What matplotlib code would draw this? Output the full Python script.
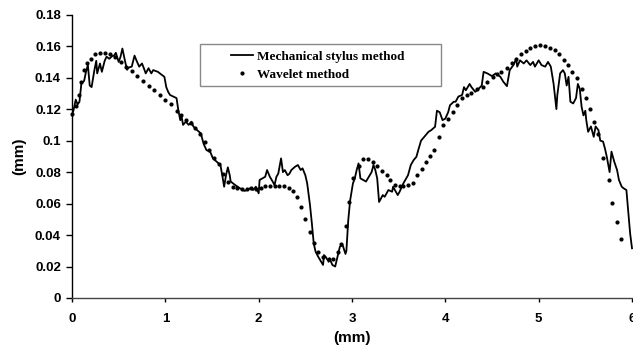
import numpy as np
import matplotlib
matplotlib.use("Agg")
import matplotlib.pyplot as plt
from matplotlib.patches import Rectangle

# mechanical stylus profile (mm)
stylus_x = [0.00, 0.015, 0.04, 0.06, 0.08, 0.10, 0.13, 0.15, 0.17, 0.19, 0.21, 0.24, 0.26, 0.27, 0.30,
            0.32, 0.35, 0.37, 0.40, 0.43, 0.45, 0.47, 0.50, 0.52, 0.54, 0.57, 0.59, 0.61, 0.64, 0.67,
            0.69, 0.72, 0.75, 0.77, 0.79, 0.82, 0.85, 0.87, 0.92, 0.99, 1.01, 1.03, 1.05, 1.12, 1.14,
            1.16, 1.175, 1.19, 1.22, 1.25, 1.28, 1.30, 1.34, 1.38, 1.41, 1.44, 1.48, 1.51, 1.55, 1.59,
            1.61, 1.63, 1.65, 1.67, 1.69, 1.70, 1.75, 1.80, 1.85, 1.91, 1.94, 1.97, 2.00, 2.01, 2.07,
            2.09, 2.12, 2.15, 2.17, 2.19, 2.21, 2.24, 2.26, 2.28, 2.31, 2.33, 2.35, 2.39, 2.42, 2.45,
            2.47, 2.50, 2.52, 2.55, 2.57, 2.59, 2.61, 2.64, 2.66, 2.69, 2.70, 2.72, 2.75, 2.76, 2.79,
            2.82, 2.84, 2.87, 2.90, 2.93, 2.94, 2.96, 2.98, 3.01, 3.03, 3.05, 3.07, 3.09, 3.12, 3.15,
            3.19, 3.21, 3.23, 3.25, 3.27, 3.29, 3.33, 3.35, 3.39, 3.43, 3.44, 3.49, 3.51, 3.55, 3.58,
            3.60, 3.63, 3.66, 3.69, 3.71, 3.74, 3.76, 3.79, 3.82, 3.85, 3.89, 3.91, 3.94, 3.97, 4.00,
            4.03, 4.05, 4.09, 4.11, 4.14, 4.18, 4.20, 4.22, 4.26, 4.28, 4.32, 4.35, 4.39, 4.41, 4.45,
            4.50, 4.54, 4.59, 4.62, 4.66, 4.69, 4.73, 4.76, 4.77, 4.80, 4.84, 4.87, 4.91, 4.94, 4.96,
            5.00, 5.03, 5.07, 5.10, 5.13, 5.16, 5.19, 5.20, 5.23, 5.26, 5.28, 5.30, 5.32, 5.34, 5.37,
            5.40, 5.42, 5.44, 5.46, 5.48, 5.50, 5.51, 5.53, 5.56, 5.59, 5.61, 5.64, 5.66, 5.69, 5.71,
            5.73, 5.76, 5.78, 5.81, 5.84, 5.86, 5.89, 5.91, 5.94, 5.96, 5.98, 6.00]
stylus_y = [0.116, 0.119, 0.126, 0.123, 0.1247, 0.136, 0.138, 0.1437, 0.148, 0.135, 0.134, 0.1448, 0.1507, 0.1427, 0.149,
            0.1437, 0.1507, 0.1533, 0.152, 0.1537, 0.154, 0.1558, 0.150, 0.1533, 0.1585, 0.150, 0.145, 0.1465, 0.147, 0.154,
            0.151, 0.147, 0.149, 0.146, 0.1427, 0.146, 0.1427, 0.1448, 0.1437, 0.1405, 0.134, 0.131, 0.129, 0.127, 0.119,
            0.113, 0.115, 0.110, 0.112, 0.110, 0.112, 0.109, 0.1067, 0.1046, 0.098, 0.094, 0.093, 0.0887, 0.0866, 0.0845,
            0.078, 0.0707, 0.078, 0.083, 0.078, 0.074, 0.0717, 0.0697, 0.068, 0.0697, 0.0686, 0.0707, 0.0665, 0.075, 0.077,
            0.0813, 0.077, 0.074, 0.0717, 0.077, 0.079, 0.0887, 0.080, 0.0813, 0.078, 0.079, 0.0813, 0.0834, 0.0845, 0.0813,
            0.0824, 0.078, 0.0728, 0.059, 0.0474, 0.0347, 0.0294, 0.026, 0.024, 0.021, 0.0273, 0.026, 0.023, 0.025, 0.021,
            0.020, 0.025, 0.0326, 0.0336, 0.028, 0.030, 0.0495, 0.062, 0.0728, 0.076, 0.0813, 0.0855, 0.076, 0.075, 0.074,
            0.078, 0.080, 0.0845, 0.0813, 0.076, 0.061, 0.0654, 0.0643, 0.0686, 0.0675, 0.0707, 0.0654, 0.0675, 0.0728, 0.076,
            0.078, 0.0845, 0.0876, 0.0897, 0.094, 0.100, 0.1014, 0.1035, 0.1056, 0.1067, 0.1088, 0.119, 0.118, 0.113, 0.114,
            0.118, 0.1225, 0.1247, 0.1247, 0.128, 0.129, 0.134, 0.132, 0.136, 0.134, 0.131, 0.1325, 0.135, 0.1437, 0.1427,
            0.141, 0.1427, 0.1405, 0.1375, 0.1346, 0.1448, 0.148, 0.152, 0.147, 0.151, 0.149, 0.151, 0.148, 0.150, 0.147,
            0.151, 0.148, 0.147, 0.150, 0.147, 0.136, 0.120, 0.129, 0.1427, 0.1448, 0.1427, 0.135, 0.1405, 0.1247, 0.1236,
            0.127, 0.136, 0.133, 0.1215, 0.116, 0.119, 0.113, 0.1056, 0.109, 0.1024, 0.109, 0.1067, 0.100, 0.0994, 0.095,
            0.0897, 0.080, 0.093, 0.0866, 0.0813, 0.075, 0.0707, 0.0697, 0.0686, 0.055, 0.041, 0.0316]

# wavelet reconstruction (mm)
wavelet_x = [0.00, 0.04, 0.07, 0.10, 0.13, 0.16, 0.20, 0.25, 0.30, 0.35, 0.41, 0.46, 0.52, 0.58, 0.64,
             0.70, 0.76, 0.82, 0.88, 0.94, 1.00, 1.06, 1.12, 1.17, 1.22, 1.27, 1.32, 1.37, 1.42, 1.47,
             1.52, 1.57, 1.62, 1.67, 1.72, 1.77, 1.82, 1.87, 1.92, 1.97, 2.02, 2.07, 2.12, 2.17, 2.22,
             2.27, 2.32, 2.37, 2.41, 2.45, 2.50, 2.55, 2.59, 2.64, 2.69, 2.75, 2.80, 2.85, 2.88, 2.94,
             2.97, 3.01, 3.07, 3.12, 3.17, 3.22, 3.27, 3.32, 3.37, 3.41, 3.46, 3.51, 3.55, 3.60, 3.65,
             3.70, 3.75, 3.79, 3.84, 3.88, 3.93, 3.98, 4.03, 4.08, 4.12, 4.18, 4.23, 4.28, 4.34, 4.40,
             4.45, 4.51, 4.55, 4.60, 4.66, 4.71, 4.76, 4.81, 4.86, 4.91, 4.96, 5.01, 5.07, 5.12, 5.18,
             5.22, 5.27, 5.31, 5.36, 5.41, 5.46, 5.51, 5.55, 5.59, 5.64, 5.69, 5.75, 5.79, 5.84, 5.88]
wavelet_y = [0.117, 0.122, 0.129, 0.137, 0.145, 0.149, 0.152, 0.155, 0.1558, 0.1558, 0.155, 0.153, 0.150, 0.147, 0.144,
             0.141, 0.138, 0.135, 0.132, 0.129, 0.126, 0.123, 0.119, 0.116, 0.113, 0.111, 0.108, 0.104, 0.099, 0.094,
             0.089, 0.085, 0.079, 0.074, 0.0705, 0.070, 0.0695, 0.0695, 0.070, 0.0695, 0.070, 0.071, 0.071, 0.071, 0.071,
             0.071, 0.070, 0.068, 0.064, 0.058, 0.050, 0.042, 0.035, 0.029, 0.026, 0.025, 0.025, 0.029, 0.034, 0.046,
             0.061, 0.076, 0.084, 0.088, 0.088, 0.0866, 0.084, 0.081, 0.078, 0.075, 0.072, 0.071, 0.071, 0.072, 0.073,
             0.078, 0.082, 0.0866, 0.090, 0.094, 0.102, 0.110, 0.114, 0.118, 0.1225, 0.127, 0.129, 0.130, 0.1325, 0.134,
             0.137, 0.1405, 0.1426, 0.1437, 0.146, 0.149, 0.152, 0.155, 0.157, 0.159, 0.160, 0.1606, 0.160, 0.159, 0.1575,
             0.155, 0.151, 0.148, 0.1437, 0.1395, 0.133, 0.127, 0.120, 0.112, 0.1045, 0.0887, 0.075, 0.0605, 0.048, 0.0373]

x_ticks = [0, 1, 2, 3, 4, 5, 6]
y_ticks = [0, 0.02, 0.04, 0.06, 0.08, 0.1, 0.12, 0.14, 0.16, 0.18]
y_tick_labels = ["0", "0.02", "0.04", "0.06", "0.08", "0.1", "0.12", "0.14", "0.16", "0.18"]

plt.rcParams["font.family"] = ["Liberation Sans", "DejaVu Sans"]

fig = plt.figure(figsize=(6.33, 3.47), dpi=100)
ax = fig.add_axes([72 / 633, 49 / 347, 560 / 633, 283.3 / 347])

ax.plot(stylus_x, stylus_y, color="black", lw=1.3, label="Mechanical stylus method", clip_on=False)
ax.plot(wavelet_x, wavelet_y, "o", color="black", ms=2.0, label="Wavelet method", clip_on=False)

ax.set_xlim(0, 6)
ax.set_ylim(0, 0.18)
ax.set_xticks(x_ticks)
ax.set_yticks(y_ticks)
ax.set_yticklabels(y_tick_labels)

for lab in ax.get_xticklabels() + ax.get_yticklabels():
    lab.set_fontweight("bold")
    lab.set_fontsize(9.5)

ax.tick_params(axis="y", direction="out", length=4, width=1, pad=4)
ax.tick_params(axis="x", direction="out", length=3, width=1, pad=8, colors="black")

ax.spines["top"].set_visible(False)
ax.spines["right"].set_visible(False)
ax.spines["left"].set_linewidth(1)
ax.spines["bottom"].set_linewidth(1)
ax.spines["bottom"].set_color("#444444")

ax.set_xlabel("(mm)", fontsize=11, fontweight="bold", labelpad=4)
ax.set_ylabel("(mm)", fontsize=11, fontweight="bold", labelpad=6)

# legend box drawn by hand, legend itself without frame
box = Rectangle((0.2286, 0.748), 0.43, 0.1486, transform=ax.transAxes,
                fill=False, edgecolor="#888888", lw=1)
ax.add_patch(box)
leg = ax.legend(loc="upper left", bbox_to_anchor=(0.2835, 0.874), frameon=False,
                prop={"family": "Liberation Serif", "weight": "bold", "size": 9.5},
                handlelength=1.7, handletextpad=0.3, labelspacing=0.45,
                numpoints=1, borderpad=0, borderaxespad=0)

fig.savefig("out.png", dpi=100)
